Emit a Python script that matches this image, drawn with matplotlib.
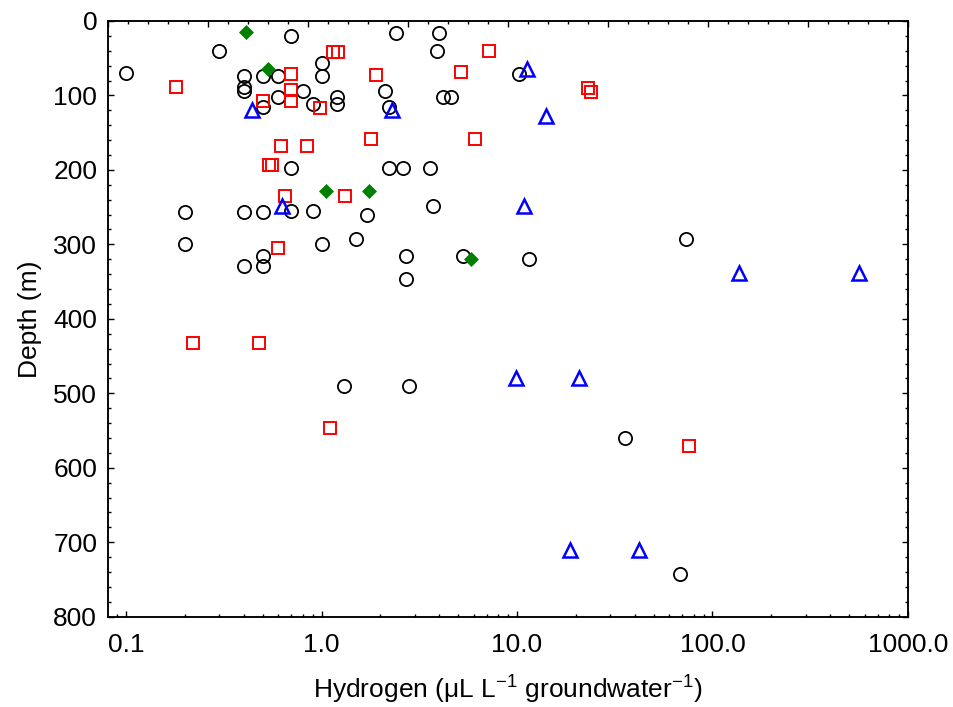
import numpy as np
import matplotlib
matplotlib.use('Agg')
import matplotlib.pyplot as plt
from matplotlib.ticker import LogLocator, NullFormatter, MultipleLocator

plt.rcParams['font.family'] = ['Liberation Sans', 'DejaVu Sans']
plt.rcParams['mathtext.fontset'] = 'custom'
plt.rcParams['mathtext.rm'] = 'Liberation Sans'
plt.rcParams['mathtext.it'] = 'Liberation Sans:italic'

#+++++++++++++++ data (hydrogen in uL/L, depth in m)
circ_h = [0.10, 0.30, 0.70, 0.40, 0.40, 0.40, 0.50, 0.60, 1.0, 1.0, 0.80, 0.60, 0.50,
          0.90, 1.2, 1.2, 2.1, 2.2, 2.4, 4.0, 3.9, 4.2, 4.6, 10.2, 0.70, 2.2, 2.6,
          3.6, 0.20, 0.40, 0.50, 0.70, 0.90, 1.7, 3.7, 0.20, 1.0, 1.5, 0.50, 0.40,
          0.50, 2.7, 2.7, 5.3, 11.5, 73.6, 1.3, 2.8, 35.5, 68]
circ_d = [70, 40, 20, 74, 89, 94, 74, 74, 57, 74, 94, 102, 116,
          111, 102, 111, 94, 116, 16, 16, 40, 102, 102, 71, 197, 197, 197,
          197, 257, 257, 257, 255, 255, 261, 249, 300, 300, 293, 316, 329,
          329, 316, 346, 316, 320, 293, 490, 490, 560, 742]

sq_h = [0.18, 0.70, 0.70, 0.70, 0.50, 0.98, 1.15, 1.22, 1.9, 5.15, 7.2, 23.0, 24.0,
        0.62, 0.845, 1.78, 6.1, 0.54, 0.555, 0.65, 1.32, 0.60, 0.22, 0.48, 1.11, 76]
sq_d = [89, 71, 93, 107, 107, 117, 42, 42, 72, 69, 40, 90, 95,
        168, 168, 159, 159, 194, 194, 235, 235, 305, 432, 432, 546, 571]

tri_h = [0.44, 2.3, 11.2, 14.1, 0.63, 10.8, 136, 565, 9.9, 20.7, 18.7, 42.3]
tri_d = [119, 119, 64, 128, 248, 248, 338, 338, 480, 480, 710, 710]

dia_h = [0.41, 0.53, 1.05, 1.75, 5.8]
dia_d = [15, 65, 228, 228, 319]

xticks = [0.1, 1, 10, 100, 1000]
xlabels = ['0.1', '1.0', '10.0', '100.0', '1000.0']

#+++++++++++++++ plot
fig = plt.figure(figsize=(9.54, 7.07), dpi=100)
ax = fig.add_axes([0.1135, 0.1277, 0.8382, 0.8426])

ax.plot(circ_h, circ_d, 'o', ms=9.5, mfc='none', mec='black', mew=1.3)
ax.plot(sq_h, sq_d, 's', ms=9.3, mfc='none', mec='red', mew=1.4)
ax.plot(tri_h, tri_d, '^', ms=9.5, mfc='none', mec='blue', mew=1.8)
ax.plot(dia_h, dia_d, 'D', ms=7.5, mfc='green', mec='green', mew=0.5)

ax.set_xscale('log')
ax.set_xlim(0.081, 1000)
ax.set_ylim(800, 0)
ax.set_xticks(xticks, labels=xlabels)
ax.xaxis.set_minor_locator(LogLocator(base=10, subs=np.arange(2, 10)))
ax.xaxis.set_minor_formatter(NullFormatter())
ax.yaxis.set_major_locator(MultipleLocator(100))
ax.yaxis.set_minor_locator(MultipleLocator(20))

ax.tick_params(which='both', direction='in', top=False, right=True, labelsize=19, width=1)
ax.tick_params(which='major', length=4)
ax.tick_params(which='minor', length=2.5)
ax.tick_params(axis='x', which='major', pad=12)
ax.tick_params(axis='y', which='major', pad=8)

# top axis has plain evenly spaced ticks
ax2 = ax.twiny()
ax2.set_xlim(0, 8)
ax2.xaxis.set_major_locator(MultipleLocator(1))
ax2.xaxis.set_minor_locator(MultipleLocator(0.2))
ax2.tick_params(which='both', direction='in', labeltop=False, width=1)
ax2.tick_params(which='major', length=4)
ax2.tick_params(which='minor', length=2.5)

for a in (ax, ax2):
    for s in a.spines.values():
        s.set_linewidth(1.1)

ax.set_xlabel(r'Hydrogen (μL L$^{-1}$ groundwater$^{-1}$)', fontsize=19, labelpad=12)
ax.set_ylabel('Depth (m)', fontsize=19, labelpad=8)

fig.savefig('out.png', dpi=100)
